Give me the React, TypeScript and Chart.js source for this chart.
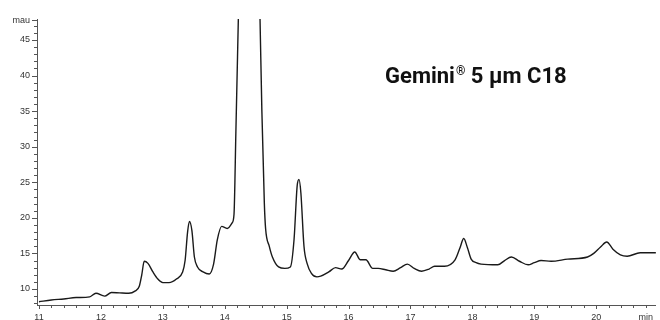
import React, { useEffect, useRef } from "react";
import { Chart, registerables } from "chart.js";

Chart.register(...registerables);

const times = [
  11.0, 11.2, 11.4, 11.6, 11.82, 11.92, 12.06, 12.17, 12.3, 12.45, 12.55, 12.62, 12.66, 12.7, 12.76, 12.84, 12.92,
  13.0, 13.1, 13.22, 13.32, 13.36, 13.4, 13.43, 13.47, 13.51, 13.56, 13.65, 13.75, 13.82, 13.88, 13.95, 14.04,
  14.12, 14.15, 14.18, 14.22, 14.26, 14.4, 14.53, 14.57, 14.6, 14.64, 14.66, 14.72, 14.77, 14.87, 14.97, 15.06,
  15.12, 15.17, 15.2, 15.23, 15.28, 15.33, 15.4, 15.49, 15.55, 15.68, 15.79, 15.89, 16.0, 16.1, 16.19, 16.28,
  16.39, 16.48, 16.6, 16.72, 16.84, 16.95, 17.06, 17.18, 17.3, 17.39, 17.55, 17.72, 17.8, 17.86, 17.92, 17.98,
  18.06, 18.14, 18.41, 18.52, 18.63, 18.76, 18.9, 19.0, 19.11, 19.27, 19.54, 19.86, 19.96, 20.07, 20.17, 20.27,
  20.39, 20.5, 20.71, 20.98,
];
const absorbance = [
  8.2, 8.45, 8.6, 8.8, 8.9, 9.4, 9.0, 9.5, 9.45, 9.4, 9.7, 10.4, 12.0, 13.9, 13.6, 12.4, 11.4,
  10.9, 10.9, 11.4, 12.4, 14.0, 18.0, 19.5, 18.2, 14.5, 13.1, 12.4, 12.1, 13.5, 16.9, 18.8, 18.5,
  19.3, 20.5, 32, 48, 64, 120, 64, 48, 35, 22, 18.5, 16, 14.5, 13.1, 12.9, 13.1,
  17, 24.5, 25.4, 23.5, 16, 13.6, 12.2, 11.7, 11.8, 12.4, 13.0, 12.8, 14.0, 15.2, 14.1, 14.1,
  12.9, 12.9, 12.7, 12.5, 13.0, 13.5, 12.9, 12.5, 12.8, 13.2, 13.2, 14.1, 15.8, 17.1, 15.8, 14.2,
  13.7, 13.5, 13.4, 14.0, 14.5, 13.9, 13.4, 13.7, 14.0, 13.9, 14.2, 14.5, 15.0, 15.9, 16.6, 15.6,
  14.8, 14.6, 15.1, 15.1,
];
const xMajorLabels = [11, 12, 13, 14, 15, 16, 17, 18, 19, 20];
const xUnitLabel = "min";
const yMajorLabels = [10, 15, 20, 25, 30, 35, 40, 45];
const yUnitLabel = "mau";
const annotationMain = "Gemini";
const annotationMark = "®";
const annotationRest = " 5 µm C18";

const X_MIN = 10.968;
const X_MAX = 20.963;
const Y_MIN = 7.75;
const Y_MAX = 47.95;
const Y_UNIT_POS = 47.8;

const near = (a: number, b: number) => Math.abs(a - b) < 1e-6;

const tickPlugin = {
  id: "customTicks",
  afterDraw(chart: any) {
    const ctx = chart.ctx;
    const xs = chart.scales.x;
    const ys = chart.scales.y;
    const area = chart.chartArea;
    ctx.save();
    ctx.strokeStyle = "#555";
    ctx.lineWidth = 1;
    for (let i = 55; i <= 104; i++) {
      const v = i / 5;
      const px = Math.round(xs.getPixelForValue(v)) + 0.5;
      const major = xMajorLabels.some((m) => near(m, v));
      ctx.beginPath();
      ctx.moveTo(px, area.bottom);
      ctx.lineTo(px, area.bottom + (major ? 4 : 3));
      ctx.stroke();
    }
    for (let v = 8; v <= 47; v++) {
      const py = Math.round(ys.getPixelForValue(v)) + 0.5;
      const major = yMajorLabels.includes(v);
      ctx.beginPath();
      ctx.moveTo(area.left, py);
      ctx.lineTo(area.left - (major ? 5 : 3), py);
      ctx.stroke();
    }
    const pyU = Math.round(ys.getPixelForValue(Y_UNIT_POS)) + 0.5;
    ctx.beginPath();
    ctx.moveTo(area.left, pyU);
    ctx.lineTo(area.left - 5, pyU);
    ctx.stroke();

    ctx.fillStyle = "#111";
    ctx.textBaseline = "alphabetic";
    ctx.textAlign = "left";
    const x0 = 385;
    const yb = 83;
    ctx.font = "bold 22px Roboto";
    ctx.fillText(annotationMain, x0, yb);
    const w1 = ctx.measureText(annotationMain).width;
    ctx.font = "bold 12px Roboto";
    ctx.fillText(annotationMark, x0 + w1 + 1, yb - 8);
    const w2 = ctx.measureText(annotationMark).width;
    ctx.font = "bold 22px Roboto";
    ctx.fillText(annotationRest, x0 + w1 + w2 + 1, yb);
    ctx.restore();
  },
};

export default function App() {
  const ref = useRef<HTMLCanvasElement | null>(null);
  useEffect(() => {
    if (!ref.current) return;
    const points = times.map((t, i) => ({ x: t, y: absorbance[i] }));
    const chart = new Chart(ref.current, {
      type: "line",
      data: {
        datasets: [
          {
            data: points,
            borderColor: "#1a1a1a",
            borderWidth: 1.4,
            pointRadius: 0,
            fill: false,
            cubicInterpolationMode: "monotone",
          },
        ],
      },
      options: {
        animation: false,
        responsive: false,
        maintainAspectRatio: false,
        layout: { padding: { top: 19, right: 0, left: 0, bottom: 0 } },
        plugins: { legend: { display: false }, tooltip: { enabled: false } },
        scales: {
          x: {
            type: "linear",
            min: X_MIN,
            max: X_MAX,
            grid: { display: false, tickLength: 0, drawTicks: false },
            border: { display: true, color: "#555", width: 1 },
            afterBuildTicks: (scale: any) => {
              const t: any[] = [];
              for (let i = 55; i <= 104; i++) t.push({ value: i / 5 });
              scale.ticks = t;
            },
            afterFit: (scale: any) => {
              scale.height = 15;
            },
            ticks: {
              autoSkip: false,
              maxRotation: 0,
              minRotation: 0,
              padding: 7,
              color: "#333",
              font: { family: "Liberation Sans", size: 9 },
              callback: (v: any) => {
                const n = Number(v);
                if (xMajorLabels.some((m) => near(m, n))) return String(Math.round(n));
                if (near(n, 20.8)) return xUnitLabel;
                return "";
              },
            },
          },
          y: {
            min: Y_MIN,
            max: Y_MAX,
            grid: { display: false, tickLength: 0, drawTicks: false },
            border: { display: true, color: "#555", width: 1 },
            afterBuildTicks: (scale: any) => {
              const t: any[] = [];
              for (let v = 8; v <= 47; v++) t.push({ value: v });
              t.push({ value: Y_UNIT_POS });
              scale.ticks = t;
            },
            afterFit: (scale: any) => {
              scale.width = 37;
            },
            ticks: {
              autoSkip: false,
              padding: 7,
              color: "#333",
              font: { family: "Liberation Sans", size: 9 },
              callback: (v: any) => {
                const n = Number(v);
                if (near(n, Y_UNIT_POS)) return yUnitLabel;
                if (yMajorLabels.some((m) => near(m, n))) return String(Math.round(n));
                return "";
              },
            },
          },
        },
      },
      plugins: [tickPlugin],
    } as any);
    return () => chart.destroy();
  }, []);
  return (
    <div style={{ position: "absolute", left: 0, top: 0, width: 660, height: 320, background: "#fff" }}>
      <canvas ref={ref} width={660} height={320} style={{ width: 660, height: 320, display: "block" }} />
    </div>
  );
}
